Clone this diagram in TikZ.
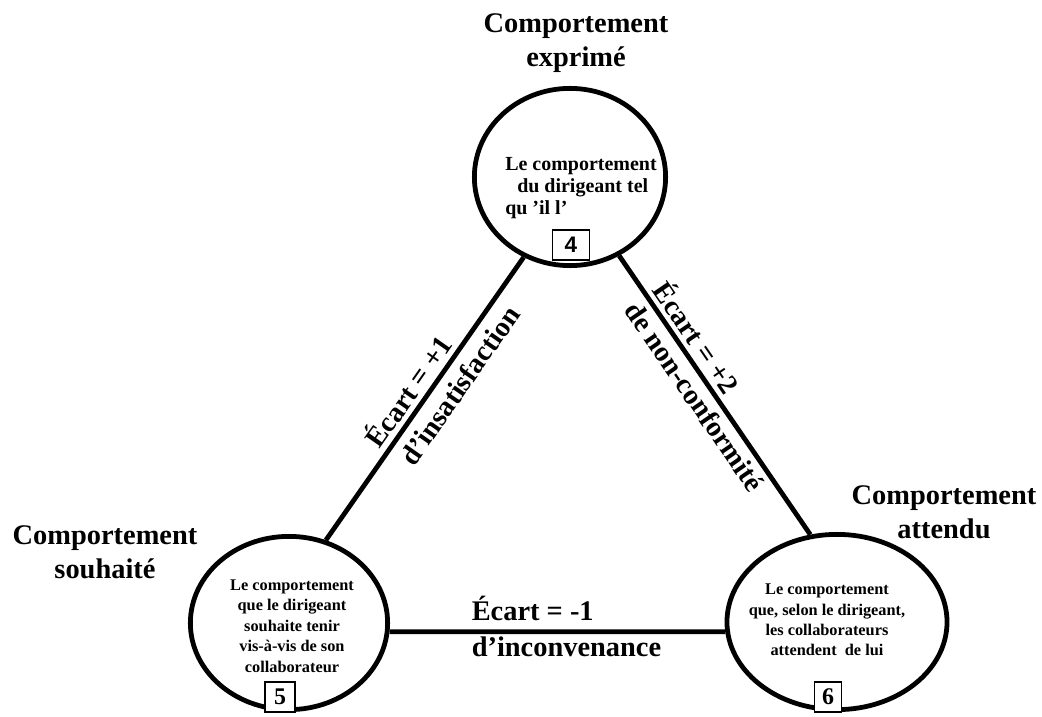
\documentclass[tikz,border=0pt]{standalone}
\usepackage{fontspec}
\setmainfont{Liberation Serif}
\newfontfamily\digitfont{Liberation Sans}
\usetikzlibrary{shapes.geometric}

\begin{document}
\begin{tikzpicture}[x=0.025cm, y=-0.025cm,
  pole/.style={draw=black, line width=3.4pt, ellipse, inner sep=0pt},
  link/.style={draw=black, line width=3.4pt},
  title/.style={align=center, font=\fontsize{20.2}{24.4}\selectfont\bfseries},
  gap/.style={font=\fontsize{20.2}{24.4}\selectfont\bfseries, sloped},
  inside/.style={align=center, font=\fontsize{11.6}{14.5}\selectfont\bfseries},
  tag/.style={draw=black, line width=1pt, fill=white, minimum width=0.75cm, minimum height=0.75cm, inner sep=1pt, font=\fontsize{17}{17}\selectfont\bfseries}]
\useasboundingbox (0,0) rectangle (1042,717);

% Draw the three behaviour circles
\node[pole, minimum width=4.78cm, minimum height=4.43cm] (expr) at (570,177) {};
\node[pole, minimum width=4.93cm, minimum height=4.33cm] (souh) at (289,623) {};
\node[pole, minimum width=5.5cm, minimum height=4.38cm] (att) at (837,622) {};

% Titles next to the circles
\node[title] (exprtitle) at (576,43) {Comportement\\exprimé};
\node[title] (souhtitle) at (105,552) {Comportement\\souhaité};
\node[title] (atttitle) at (944,512) {Comportement\\attendu};

% Texts inside the circles
\node[inside, align=left, anchor=west, inner sep=0pt, font=\fontsize{14.2}{15.8}\selectfont\bfseries] (exprtxt) at (505,188) {Le comportement\\\hspace*{0.6em}du dirigeant tel\\qu ’il l’};
\node[inside] (souhtxt) at (292,626) {Le comportement\\que le dirigeant\\souhaite tenir\\vis-à-vis de son\\collaborateur};
\node[inside] (atttxt) at (827,620) {Le comportement\\que, selon le dirigeant,\\les collaborateurs\\attendent~ de lui};

% Numbered boxes
\node[tag, minimum width=0.92cm, font=\digitfont\fontsize{16}{16}\selectfont\bfseries] (n4) at (571,245) {4};
\node[tag] (n5) at (280,697) {5};
\node[tag, minimum width=0.68cm] (n6) at (828,697) {6};

% Gaps between the behaviours
\draw[link] (souh.66) -- node[gap, above, pos=.49] (ecart1) {Écart = +1} node[gap, below, inner ysep=6pt, pos=.59] (insat) {d’insatisfaction} (expr.240);
\draw[link] (expr.302) -- node[gap, above, pos=.33] (ecart2) {Écart = +2} node[gap, below, pos=.47] (nonconf) {de non-conformité} (att.107);
\draw[link] (souh.355) -- node[gap, anchor=south west, inner ysep=6pt, pos=.224] (ecart3) {Écart = -1} node[gap, anchor=north west, inner ysep=2pt, pos=.224] (inconv) {d’inconvenance} (att.185);
\end{tikzpicture}
\end{document}
